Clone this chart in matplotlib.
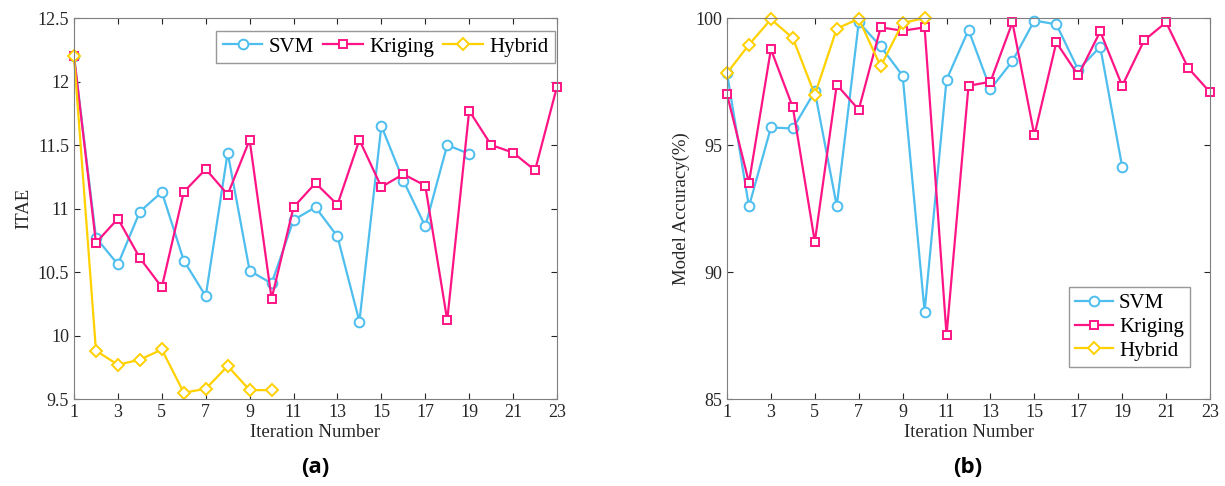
import matplotlib.pyplot as plt
import numpy as np

# iteration index
it_svm = np.arange(1, 20)
it_krg = np.arange(1, 24)
it_hyb = np.arange(1, 11)

# (a) ITAE
itae_svm = [12.2, 10.77, 10.56, 10.975, 11.13, 10.59, 10.31, 11.44, 10.51, 10.41,
            10.91, 11.01, 10.78, 10.11, 11.65, 11.22, 10.86, 11.50, 11.43]
itae_krg = [12.2, 10.73, 10.92, 10.61, 10.38, 11.13, 11.31, 11.11, 11.54, 10.29,
            11.01, 11.20, 11.03, 11.54, 11.17, 11.27, 11.18, 10.12, 11.77, 11.50,
            11.44, 11.30, 11.96]
itae_hyb = [12.2, 9.88, 9.77, 9.81, 9.89, 9.55, 9.58, 9.76, 9.57, 9.57]

# (b) model accuracy (%)
acc_svm = [97.83, 92.58, 95.69, 95.65, 97.11, 92.6, 99.83, 98.88, 97.73, 88.44,
           97.57, 99.53, 97.2, 98.3, 99.9, 99.75, 97.96, 98.87, 94.14]
acc_krg = [97.0, 93.52, 98.77, 96.48, 91.19, 97.37, 96.39, 99.63, 99.5, 99.63,
           87.52, 97.33, 97.49, 99.83, 95.38, 99.04, 97.74, 99.47, 97.33, 99.12,
           99.83, 98.04, 97.08]
acc_hyb = [97.83, 98.95, 99.95, 99.21, 96.98, 99.58, 99.97, 98.1, 99.8, 100.0]

labels = ['SVM', 'Kriging', 'Hybrid']
colors = ['#4DBEEE', '#FF1485', '#FFD100']
markers = ['o', 's', 'D']
msizes = [7, 6, 6]

plt.rcParams['font.family'] = ['Liberation Serif', 'DejaVu Serif']

fig = plt.figure(figsize=(12.25, 4.86), dpi=100)
ax1 = fig.add_axes([74/1225, 87/486, 483/1225, 381/486])
ax2 = fig.add_axes([727/1225, 87/486, 483/1225, 381/486])


def draw(ax, xs, ys):
    for x, y, lab, c, m, ms in zip(xs, ys, labels, colors, markers, msizes):
        ax.plot(x, y, color=c, marker=m, markersize=ms, markerfacecolor='white',
                markeredgewidth=1.4, linewidth=1.6, label=lab, clip_on=False)
    ax.set_xlim(1, 23)
    ax.set_xticks(np.arange(1, 24, 2))
    ax.tick_params(direction='in', top=True, right=True, labelsize=13,
                   colors='#262626', length=4)
    for s in ax.spines.values():
        s.set_color('#7f7f7f')
    ax.set_xlabel('Iteration Number', fontsize=13.5, color='#262626', labelpad=2)


draw(ax1, [it_svm, it_krg, it_hyb], [itae_svm, itae_krg, itae_hyb])
ax1.set_ylim(9.5, 12.5)
ax1.set_yticks([9.5, 10, 10.5, 11, 11.5, 12, 12.5])
ax1.set_yticklabels(['9.5', '10', '10.5', '11', '11.5', '12', '12.5'])
ax1.set_ylabel('ITAE', fontsize=13.5, color='#262626', labelpad=4)
leg1 = ax1.legend(loc='upper right', ncol=3, fontsize=15, frameon=True, fancybox=False,
                  edgecolor='#7f7f7f', handlelength=1.9, handletextpad=0.3,
                  columnspacing=0.45, borderpad=0.3, borderaxespad=0,
                  bbox_to_anchor=(0.995, 0.966))
leg1.get_frame().set_linewidth(1.0)

draw(ax2, [it_svm, it_krg, it_hyb], [acc_svm, acc_krg, acc_hyb])
ax2.set_ylim(85, 100)
ax2.set_yticks([85, 90, 95, 100])
ax2.set_ylabel('Model Accuracy(%)', fontsize=13.5, color='#262626', labelpad=4)
leg2 = ax2.legend(loc='lower right', fontsize=15, frameon=True, fancybox=False,
                  edgecolor='#7f7f7f', handlelength=1.8, handletextpad=0.3,
                  borderpad=0.3, labelspacing=0.2, borderaxespad=0,
                  bbox_to_anchor=(0.9586, 0.084))
leg2.get_frame().set_linewidth(1.0)

fig.text(315/1225, 1 - 467/486, '(a)', ha='center', va='center', fontsize=16,
         fontweight='bold', family=['Open Sans', 'DejaVu Sans'])
fig.text(968/1225, 1 - 467/486, '(b)', ha='center', va='center', fontsize=16,
         fontweight='bold', family=['Open Sans', 'DejaVu Sans'])

plt.savefig('out.png', dpi=100)
